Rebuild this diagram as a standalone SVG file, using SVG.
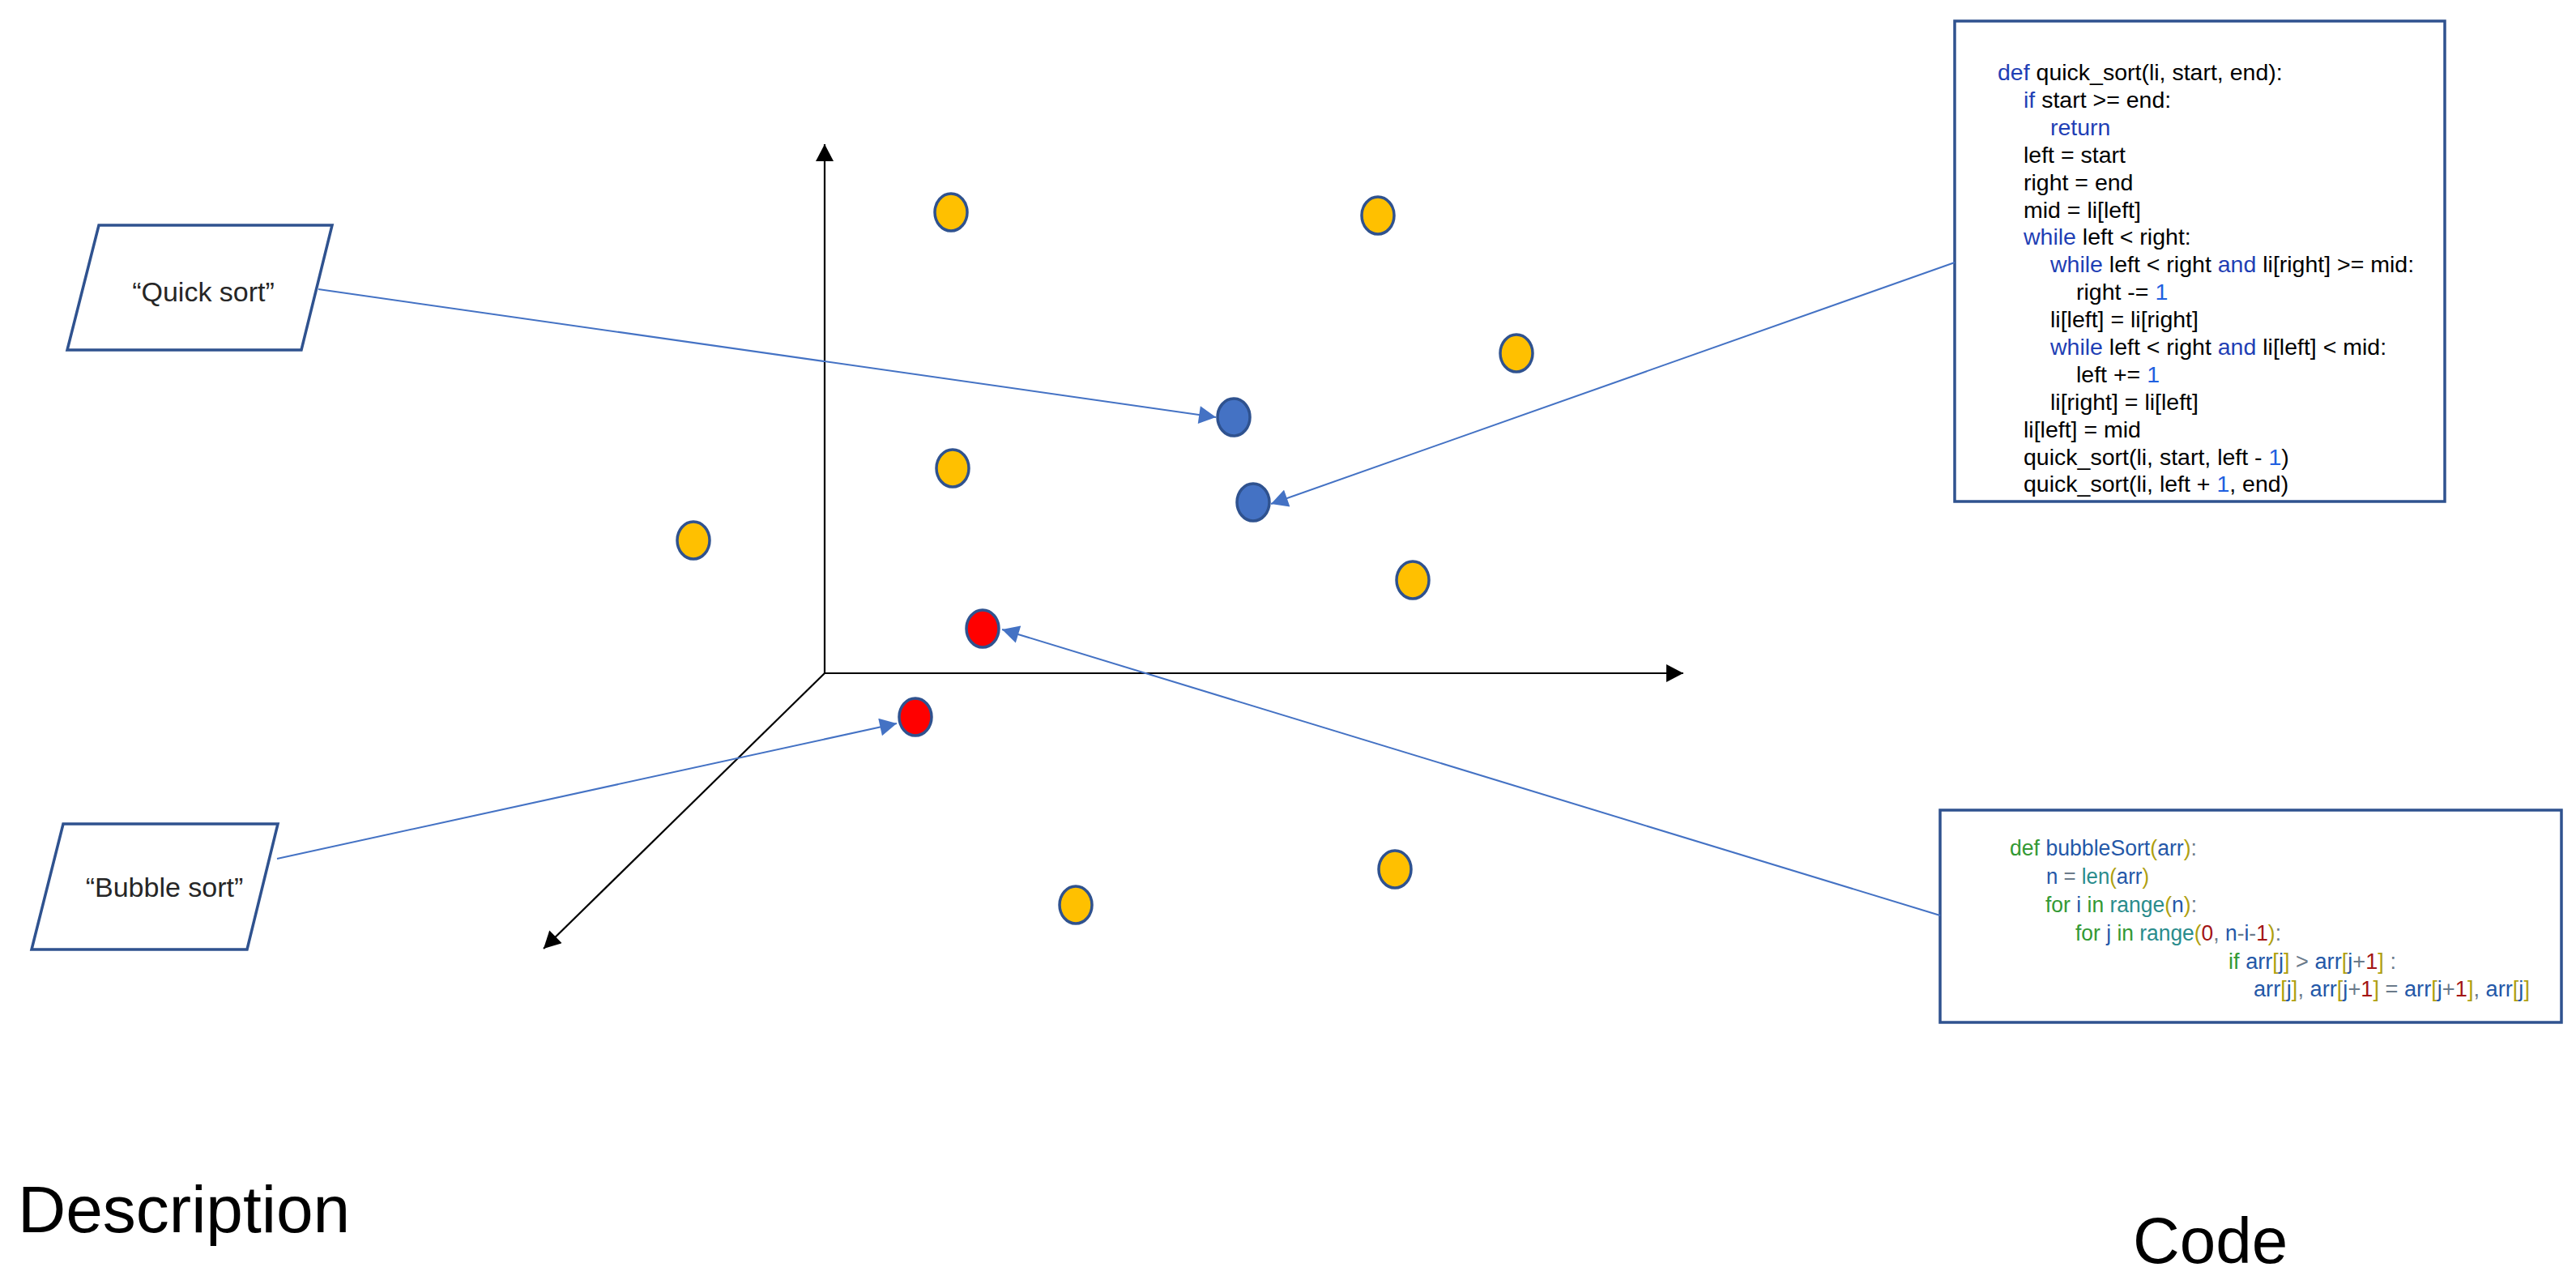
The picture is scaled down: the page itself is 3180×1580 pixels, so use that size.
<svg xmlns="http://www.w3.org/2000/svg" width="3180" height="1580" viewBox="0 0 3180 1580">
<style>
.pg{fill:#fff;stroke:#2F528F;stroke-width:3.5}
.lbl{font-family:"Liberation Sans",Arial,sans-serif;font-size:34px;fill:#262626;text-anchor:middle}
.big{font-family:"Liberation Sans",Arial,sans-serif;font-size:80px;fill:#000}
.box{fill:#fff;stroke:#2F528F;stroke-width:3.5}
.c1{font-family:"Liberation Sans",Arial,sans-serif;font-size:28.5px;fill:#000}
.kw{fill:#1F3FB5}
.num{fill:#1F5FE0}
.c2{font-family:"Liberation Sans Narrow","Liberation Sans",Arial,sans-serif;font-size:27px;fill:#6A7A8A}
.g{fill:#339933}
.b{fill:#2458A8}
.t{fill:#2A8C8C}
.o{fill:#B0A010}
.r{fill:#A31515}
.ax{stroke:#000;stroke-width:2.2;fill:none}
.cn{stroke:#4472C4;stroke-width:2;fill:none}
.dy{fill:#FFC000;stroke:#2F528F;stroke-width:3.5}
.db{fill:#4472C4;stroke:#2F528F;stroke-width:3.5}
.dr{fill:#FF0000;stroke:#2F528F;stroke-width:3.5}
</style>
<defs>
<marker id="ak" markerUnits="userSpaceOnUse" markerWidth="22" markerHeight="22" viewBox="0 0 20 21" refX="20" refY="10.5" orient="auto">
<path d="M0,0 L20,10.5 L0,21 Z" fill="#000"/>
</marker>
<marker id="ab" markerUnits="userSpaceOnUse" markerWidth="22" markerHeight="22" viewBox="0 0 19 20" refX="19" refY="10" orient="auto">
<path d="M0,0 L19,10 L0,20 Z" fill="#4472C4"/>
</marker>
</defs>
<rect width="3180" height="1580" fill="#fff"/>

<g id="axes">
<line class="ax" x1="1018" y1="831" x2="1018" y2="178" marker-end="url(#ak)"/>
<line class="ax" x1="1018" y1="831" x2="2078" y2="831" marker-end="url(#ak)"/>
<line class="ax" x1="1018" y1="831" x2="671" y2="1171" marker-end="url(#ak)"/>
</g>

<g id="points">
<ellipse id="p1" class="dy" cx="1174" cy="262" rx="20" ry="23"/>
<ellipse id="p2" class="dy" cx="1701" cy="266" rx="20" ry="23"/>
<ellipse id="p3" class="dy" cx="1872" cy="436" rx="20" ry="23"/>
<ellipse id="p4" class="dy" cx="1176" cy="578" rx="20" ry="23"/>
<ellipse id="p5" class="dy" cx="856" cy="667" rx="20" ry="23"/>
<ellipse id="p6" class="dy" cx="1744" cy="716" rx="20" ry="23"/>
<ellipse id="p7" class="dy" cx="1722" cy="1073" rx="20" ry="23"/>
<ellipse id="p8" class="dy" cx="1328" cy="1117" rx="20" ry="23"/>
<ellipse id="qs1" class="db" cx="1523" cy="515" rx="20" ry="23"/>
<ellipse id="qs2" class="db" cx="1547" cy="620" rx="20" ry="23"/>
<ellipse id="bs1" class="dr" cx="1213" cy="776" rx="20" ry="23"/>
<ellipse id="bs2" class="dr" cx="1130" cy="885" rx="20" ry="23"/>
</g>

<g id="quick-label">
<polygon class="pg" points="122,278 410,278 372,432 83,432"/>
<text class="lbl" x="251" y="372">“Quick sort”</text>
</g>

<g id="bubble-label">
<polygon class="pg" points="78,1017 343,1017 305,1172 39,1172"/>
<text class="lbl" x="203" y="1107">“Bubble sort”</text>
</g>

<g id="quick-code">
<rect class="box" x="2413" y="26" width="605" height="593"/>
<text class="c1" x="2466" y="99"><tspan class="kw">def</tspan> quick_sort(li, start, end):</text>
<text class="c1" x="2498" y="133"><tspan class="kw">if</tspan> start &gt;= end:</text>
<text class="c1 kw" x="2531" y="167">return</text>
<text class="c1" x="2498" y="201">left = start</text>
<text class="c1" x="2498" y="235">right = end</text>
<text class="c1" x="2498" y="269">mid = li[left]</text>
<text class="c1" x="2498" y="302"><tspan class="kw">while</tspan> left &lt; right:</text>
<text class="c1" x="2531" y="336"><tspan class="kw">while</tspan> left &lt; right <tspan class="kw">and</tspan> li[right] &gt;= mid:</text>
<text class="c1" x="2563" y="370">right -= <tspan class="num">1</tspan></text>
<text class="c1" x="2531" y="404">li[left] = li[right]</text>
<text class="c1" x="2531" y="438"><tspan class="kw">while</tspan> left &lt; right <tspan class="kw">and</tspan> li[left] &lt; mid:</text>
<text class="c1" x="2563" y="472">left += <tspan class="num">1</tspan></text>
<text class="c1" x="2531" y="506">li[right] = li[left]</text>
<text class="c1" x="2498" y="540">li[left] = mid</text>
<text class="c1" x="2498" y="574">quick_sort(li, start, left - <tspan class="num">1</tspan>)</text>
<text class="c1" x="2498" y="607">quick_sort(li, left + <tspan class="num">1</tspan>, end)</text>
</g>

<g id="bubble-code">
<rect class="box" x="2395" y="1000" width="767" height="262"/>
<text class="c2" x="2481" y="1056" textLength="231" lengthAdjust="spacingAndGlyphs"><tspan class="g">def</tspan> <tspan class="b">bubbleSort</tspan><tspan class="o">(</tspan><tspan class="b">arr</tspan><tspan class="o">)</tspan>:</text>
<text class="c2" x="2526" y="1091" textLength="127" lengthAdjust="spacingAndGlyphs"><tspan class="b">n</tspan> = <tspan class="t">len</tspan><tspan class="o">(</tspan><tspan class="b">arr</tspan><tspan class="o">)</tspan></text>
<text class="c2" x="2525" y="1126" textLength="187" lengthAdjust="spacingAndGlyphs"><tspan class="g">for</tspan> <tspan class="b">i</tspan> <tspan class="g">in</tspan> <tspan class="t">range</tspan><tspan class="o">(</tspan><tspan class="b">n</tspan><tspan class="o">)</tspan>:</text>
<text class="c2" x="2562" y="1161" textLength="254" lengthAdjust="spacingAndGlyphs"><tspan class="g">for</tspan> <tspan class="b">j</tspan> <tspan class="g">in</tspan> <tspan class="t">range</tspan><tspan class="o">(</tspan><tspan class="r">0</tspan>, <tspan class="b">n</tspan>-<tspan class="b">i</tspan>-<tspan class="r">1</tspan><tspan class="o">)</tspan>:</text>
<text class="c2" x="2751" y="1196" textLength="207" lengthAdjust="spacingAndGlyphs"><tspan class="g">if</tspan> <tspan class="b">arr</tspan><tspan class="o">[</tspan><tspan class="b">j</tspan><tspan class="o">]</tspan> &gt; <tspan class="b">arr</tspan><tspan class="o">[</tspan><tspan class="b">j</tspan>+<tspan class="r">1</tspan><tspan class="o">]</tspan> :</text>
<text class="c2" x="2782" y="1230" textLength="341" lengthAdjust="spacingAndGlyphs"><tspan class="b">arr</tspan><tspan class="o">[</tspan><tspan class="b">j</tspan><tspan class="o">]</tspan>, <tspan class="b">arr</tspan><tspan class="o">[</tspan><tspan class="b">j</tspan>+<tspan class="r">1</tspan><tspan class="o">]</tspan> = <tspan class="b">arr</tspan><tspan class="o">[</tspan><tspan class="b">j</tspan>+<tspan class="r">1</tspan><tspan class="o">]</tspan>, <tspan class="b">arr</tspan><tspan class="o">[</tspan><tspan class="b">j</tspan><tspan class="o">]</tspan></text>
</g>

<g id="connectors">
<line class="cn" x1="393" y1="357" x2="1501" y2="515" marker-end="url(#ab)"/>
<line class="cn" x1="2413" y1="324" x2="1569" y2="622" marker-end="url(#ab)"/>
<line class="cn" x1="2395" y1="1130" x2="1237" y2="777" marker-end="url(#ab)"/>
<line class="cn" x1="342" y1="1060" x2="1107" y2="893" marker-end="url(#ab)"/>
</g>

<g id="titles">
<text class="big" x="22" y="1521" style="font-size:82px">Description</text>
<text class="big" x="2633" y="1559">Code</text>
</g>
</svg>
